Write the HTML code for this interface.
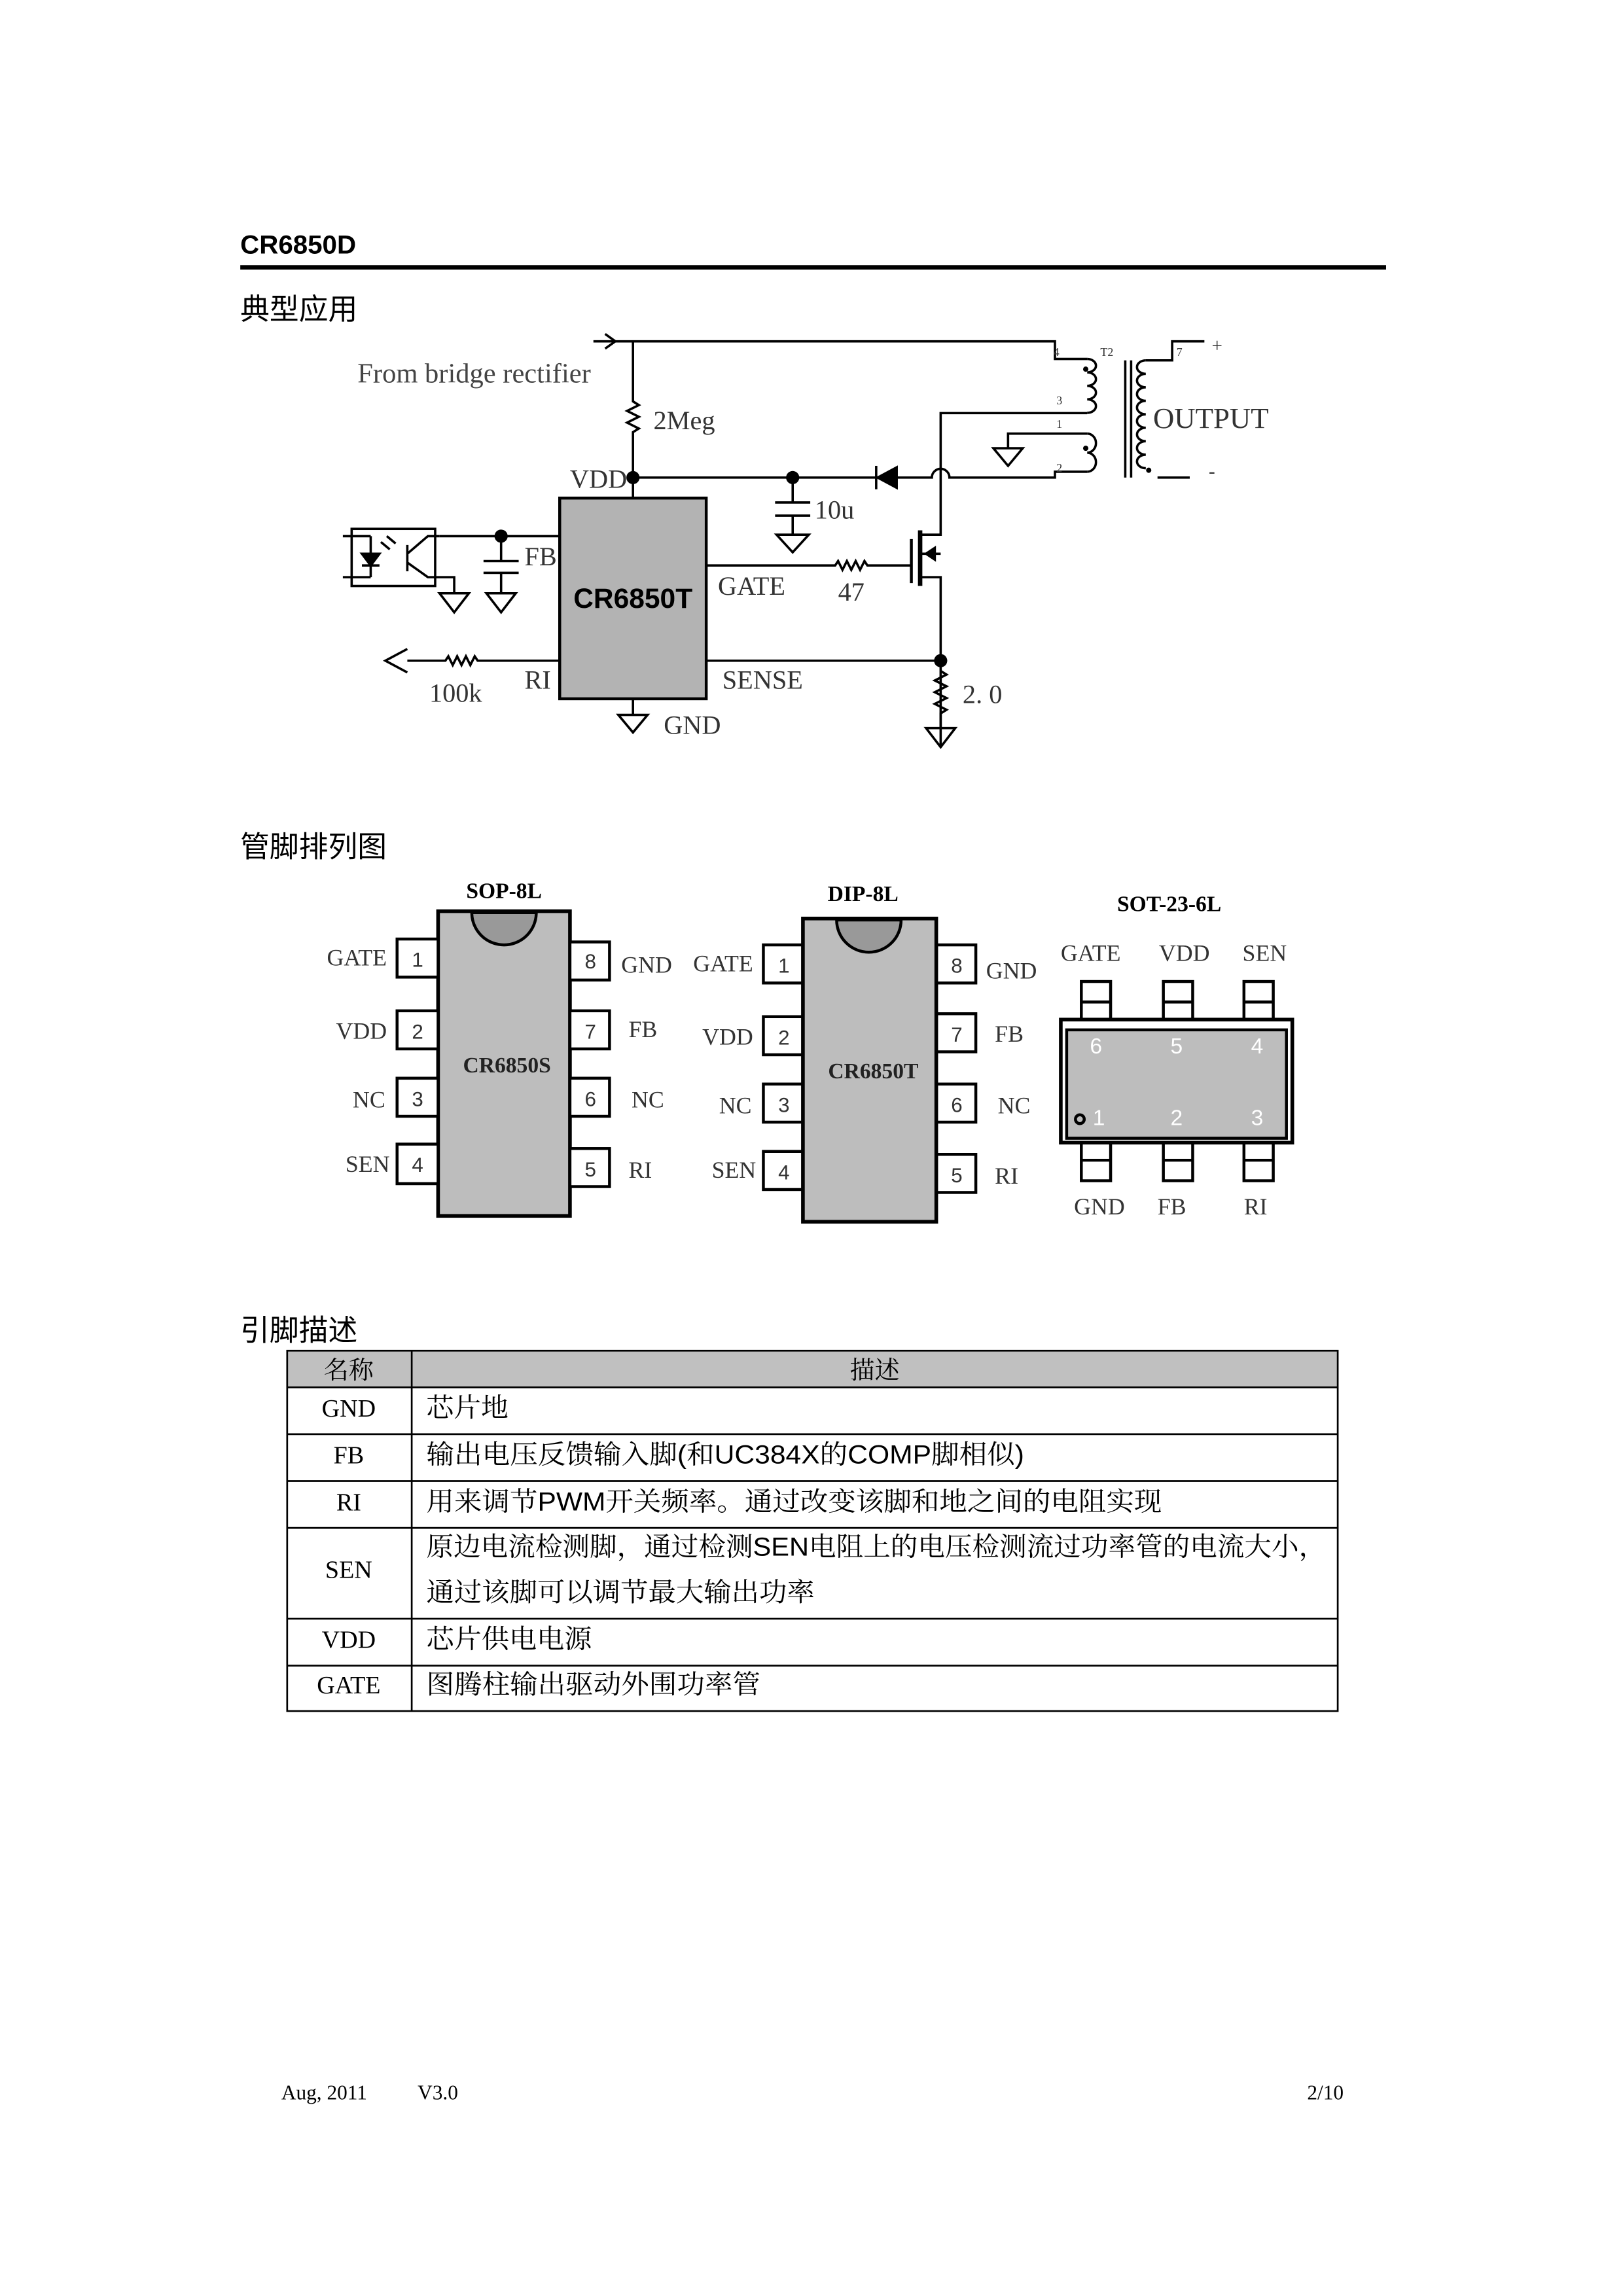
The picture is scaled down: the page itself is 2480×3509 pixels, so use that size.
<!DOCTYPE html>
<html><head><meta charset="utf-8"><style>
html,body{margin:0;padding:0;background:#fff;}
svg{display:block;}
</style></head><body>
<svg width="2480" height="3509" viewBox="0 0 1107.7 1567.3" preserveAspectRatio="none" xmlns="http://www.w3.org/2000/svg">
<rect width="1107.7" height="1567.3" fill="#fff"/>
<!-- header -->
<text x="164" y="173" font-family="Liberation Sans, sans-serif" font-weight="bold" font-size="18">CR6850D</text>
<rect x="164" y="181" width="782" height="3" fill="#000"/>
<text x="164" y="218" font-family="Liberation Sans, 'Noto Sans CJK SC', sans-serif" font-size="20">典型应用</text>

<!-- schematic -->
<g fill="none" stroke="#000" stroke-width="1.6">
<path d="M405 233 H720 V245 H742"/>
<path d="M413 228 L420 233 L413 238"/>
<text x="244" y="261" font-family="Liberation Serif, serif" font-size="19" fill="#444" stroke="none">From bridge rectifier</text>
<path d="M432 233 V274 l4 2.5 l-8 4 l8 4 l-8 4 l8 4 l-4 2.5 V340"/>
<path d="M432 326 H636 a6 6 0 0 1 12 0 H720 V322 H742"/>
<path d="M541 326 V343 M529 343 H553 M529 352 H553 M541 352 V365 M530 365 H552 L541 377 Z"/>
<path d="M598 318 V334"/>
<path d="M612 319 L612 333 L599 326 Z" fill="#000"/>
<!-- transformer -->
<path d="M742 245 a6 4.6 0 0 1 0 9.2 a6 4.6 0 0 1 0 9.2 a6 4.6 0 0 1 0 9.2 a6 4.6 0 0 1 0 9.2"/>
<path d="M742 296 a6 6.5 0 0 1 0 13 a6 6.5 0 0 1 0 13"/>
<path d="M768 246 V326 M772 246 V326"/>
<path d="M782 246 a6 4.6 0 0 0 0 9.2 a6 4.6 0 0 0 0 9.2 a6 4.6 0 0 0 0 9.2 a6 4.6 0 0 0 0 9.2 a6 4.6 0 0 0 0 9.2 a6 4.6 0 0 0 0 9.2 a6 4.6 0 0 0 0 9.2 a6 4.6 0 0 0 0 9.2"/>
<path d="M782 246 H800 V233 H822"/>
<path d="M790 326 H812"/>
<path d="M742 282 H642 V365 H628"/>
<path d="M742 296 H688 V306 M678 306 H698 L688 318 Z"/>
<!-- mosfet -->
<path d="M628 362 V400" stroke-width="3"/>
<path d="M622 368 V398" stroke-width="2"/>
<path d="M628 378 H642 M628 394 H642 V510"/>
<path d="M632 378 L638 374 L638 382 Z" fill="#000"/>
<!-- gate -->
<path d="M482 386 H570 l2 -3 l3 6 l3 -6 l3 6 l3 -6 l3 6 l3 -6 l2 3 H622"/>
<!-- sense -->
<path d="M482 451 H642"/>
<path d="M642 458 l4 2.5 l-8 4 l8 4 l-8 4 l8 4 l-8 4 l8 4 l-4 2.5 V497 M632 497 H652 L642 510 Z"/>
<!-- RI -->
<path d="M382 451 H326 l-2 -3 l-3 6 l-3 -6 l-3 6 l-3 -6 l-3 6 l-3 -6 l-2 3 H278"/>
<path d="M278 443 L263 451 L278 459"/>
<!-- GND -->
<path d="M432 477 V488 M422 488 H442 L432 500 Z"/>
<!-- FB -->
<path d="M300 366 H382 M342 366 V383 M330 383 H354 M330 391 H354 M342 391 V405 M332 405 H352 L342 418 Z"/>
<!-- opto -->
<rect x="240" y="361" width="57" height="39"/>
<path d="M234 366 H253 M234 394 H253 M253 366 V394"/>
<path d="M247 378 H259 L253 386 Z M247 386 H259" fill="#000"/>
<path d="M260 370 l6 5 M264 366 l6 5"/>
<path d="M278 372 V390 M278 378 L292 366 H300 M278 384 L292 394 H310 V405 M300 405 H320 L310 418 Z"/>
</g>
<circle cx="432" cy="326" r="4.5"/>
<circle cx="541" cy="326" r="4.5"/>
<circle cx="342" cy="366" r="4.5"/>
<circle cx="642" cy="451" r="4.5"/>
<circle cx="741" cy="252" r="1.8"/><circle cx="741" cy="306" r="1.8"/><circle cx="784" cy="321" r="1.8"/>
<rect x="382" y="340" width="100" height="137" fill="#b3b3b3" stroke="#000" stroke-width="2"/>
<g font-family="Liberation Serif, serif" font-size="18" fill="#333">
<text x="446" y="293">2Meg</text>
<text x="389" y="333">VDD</text>
<text x="556" y="354">10u</text>
<text x="358" y="386">FB</text>
<text x="490" y="406">GATE</text>
<text x="572" y="410">47</text>
<text x="493" y="470">SENSE</text>
<text x="657" y="480">2. 0</text>
<text x="358" y="470">RI</text>
<text x="293" y="479">100k</text>
<text x="453" y="501">GND</text>
<text x="787" y="292" font-size="20">OUTPUT</text>
<text x="827" y="240" font-size="13">+</text>
<text x="825" y="326" font-size="13">-</text>
<g font-size="8"><text x="719" y="243">4</text><text x="751" y="243">T2</text><text x="803" y="243">7</text><text x="721" y="276">3</text><text x="721" y="292">1</text><text x="721" y="322">2</text></g>
</g>
<text x="432" y="415" text-anchor="middle" font-family="Liberation Sans, sans-serif" font-weight="bold" font-size="19">CR6850T</text>

<!-- pinout -->
<text x="164" y="585" font-family="Liberation Sans, 'Noto Sans CJK SC', sans-serif" font-size="20">管脚排列图</text>
<g font-family="Liberation Serif, serif" font-weight="bold" font-size="15" text-anchor="middle">
<text x="344" y="613">SOP-8L</text><text x="589" y="615">DIP-8L</text><text x="798" y="622">SOT-23-6L</text>
</g>
<!-- SOP -->
<rect x="299" y="622" width="90" height="208" fill="#bdbdbd" stroke="#000" stroke-width="2.5"/>
<path d="M322 623 A22 22 0 0 0 366 623 Z" fill="#999" stroke="#000" stroke-width="2"/>
<g fill="#fff" stroke="#000" stroke-width="2">
<rect x="271" y="641" width="28" height="26"/><rect x="271" y="690" width="28" height="26"/><rect x="271" y="736" width="28" height="26"/><rect x="271" y="781" width="28" height="27"/>
<rect x="389" y="643" width="27" height="26"/><rect x="389" y="690" width="27" height="26"/><rect x="389" y="736" width="27" height="26"/><rect x="389" y="784" width="27" height="26"/>
<rect x="521" y="645" width="27" height="26"/><rect x="521" y="694" width="27" height="26"/><rect x="521" y="740" width="27" height="26"/><rect x="521" y="786" width="27" height="26"/>
<rect x="639" y="645" width="27" height="26"/><rect x="639" y="692" width="27" height="26"/><rect x="639" y="740" width="27" height="26"/><rect x="639" y="788" width="27" height="26"/>
</g>
<rect x="548" y="627" width="91" height="207" fill="#bdbdbd" stroke="#000" stroke-width="2.5"/>
<path d="M571 628 A22 22 0 0 0 615 628 Z" fill="#999" stroke="#000" stroke-width="2"/>
<g font-family="Liberation Sans, sans-serif" font-size="14" fill="#333" text-anchor="middle">
<text x="285" y="660">1</text><text x="285" y="709">2</text><text x="285" y="755">3</text><text x="285" y="800">4</text>
<text x="403" y="661">8</text><text x="403" y="709">7</text><text x="403" y="755">6</text><text x="403" y="803">5</text>
<text x="535" y="664">1</text><text x="535" y="713">2</text><text x="535" y="759">3</text><text x="535" y="805">4</text>
<text x="653" y="664">8</text><text x="653" y="711">7</text><text x="653" y="759">6</text><text x="653" y="807">5</text>
</g>
<g font-family="Liberation Serif, serif" font-size="16" fill="#333">
<g text-anchor="end"><text x="264" y="659">GATE</text><text x="264" y="709">VDD</text><text x="263" y="756">NC</text><text x="266" y="800">SEN</text>
<text x="514" y="663">GATE</text><text x="514" y="713">VDD</text><text x="513" y="760">NC</text><text x="516" y="804">SEN</text></g>
<text x="424" y="664">GND</text><text x="429" y="708">FB</text><text x="431" y="756">NC</text><text x="429" y="804">RI</text>
<text x="673" y="668">GND</text><text x="679" y="711">FB</text><text x="681" y="760">NC</text><text x="679" y="808">RI</text>
<text x="724" y="656">GATE</text><text x="791" y="656">VDD</text><text x="848" y="656">SEN</text>
<text x="733" y="829">GND</text><text x="790" y="829">FB</text><text x="849" y="829">RI</text>
</g>
<g font-family="Liberation Serif, serif" font-weight="bold" font-size="15" text-anchor="middle" fill="#222">
<text x="346" y="732">CR6850S</text><text x="596" y="736">CR6850T</text><text x="803" y="741">CR6850S</text>
</g>
<!-- SOT -->
<g fill="#fff" stroke="#000" stroke-width="2">
<rect x="738" y="670" width="20" height="27"/><rect x="794" y="670" width="20" height="27"/><rect x="849" y="670" width="20" height="27"/>
<rect x="738" y="780" width="20" height="26"/><rect x="794" y="780" width="20" height="26"/><rect x="849" y="780" width="20" height="26"/>
</g>
<path d="M738 684 H758 M794 684 H814 M849 684 H869 M738 792 H758 M794 792 H814 M849 792 H869" stroke="#000" stroke-width="2"/>
<rect x="724" y="696" width="158" height="84" fill="#fff" stroke="#000" stroke-width="2.5"/>
<rect x="728" y="703" width="150" height="74" fill="#bdbdbd" stroke="#000" stroke-width="2"/>
<g font-family="Liberation Sans, sans-serif" font-size="15" fill="#fff" text-anchor="middle">
<text x="748" y="719">6</text><text x="803" y="719">5</text><text x="858" y="719">4</text>
<text x="750" y="768">1</text><text x="803" y="768">2</text><text x="858" y="768">3</text>
</g>
<circle cx="737" cy="764" r="3" fill="none" stroke="#000" stroke-width="2"/>

<!-- table -->
<text x="164" y="915" font-family="Liberation Sans, 'Noto Sans CJK SC', sans-serif" font-size="20">引脚描述</text>
<rect x="196" y="922" width="717" height="25" fill="#c0c0c0"/>
<g stroke="#000" stroke-width="1.2" fill="none">
<rect x="196" y="922" width="717" height="246"/>
<path d="M281 922 V1168 M196 947 H913 M196 979 H913 M196 1011 H913 M196 1043 H913 M196 1105 H913 M196 1137 H913"/>
</g>
<g font-family="Liberation Serif, 'Noto Serif CJK SC', serif" font-size="17" text-anchor="middle">
<text x="238" y="941">名称</text><text x="597" y="941">描述</text>
<text x="238" y="967">GND</text><text x="238" y="999">FB</text><text x="238" y="1031">RI</text><text x="238" y="1077">SEN</text><text x="238" y="1125">VDD</text><text x="238" y="1156">GATE</text>
</g>
<g font-family="Liberation Sans, 'Noto Serif CJK SC', serif" font-size="18">
<text x="291" y="967" textLength="56" lengthAdjust="spacingAndGlyphs">芯片地</text>
<text x="291" y="999" textLength="408" lengthAdjust="spacingAndGlyphs">输出电压反馈输入脚(和UC384X的COMP脚相似)</text>
<text x="291" y="1031" textLength="502" lengthAdjust="spacingAndGlyphs">用来调节PWM开关频率。通过改变该脚和地之间的电阻实现</text>
<text x="291" y="1062" textLength="614" lengthAdjust="spacingAndGlyphs">原边电流检测脚，通过检测SEN电阻上的电压检测流过功率管的电流大小，</text>
<text x="291" y="1093" textLength="265" lengthAdjust="spacingAndGlyphs">通过该脚可以调节最大输出功率</text>
<text x="291" y="1125" textLength="113" lengthAdjust="spacingAndGlyphs">芯片供电电源</text>
<text x="291" y="1156" textLength="228" lengthAdjust="spacingAndGlyphs">图腾柱输出驱动外围功率管</text>
</g>

<!-- footer -->
<g font-family="Liberation Serif, serif" font-size="14">
<text x="192" y="1433">Aug, 2011</text><text x="285" y="1433">V3.0</text>
<text x="917" y="1433" text-anchor="end">2/10</text>
</g>
</svg>
</body></html>
